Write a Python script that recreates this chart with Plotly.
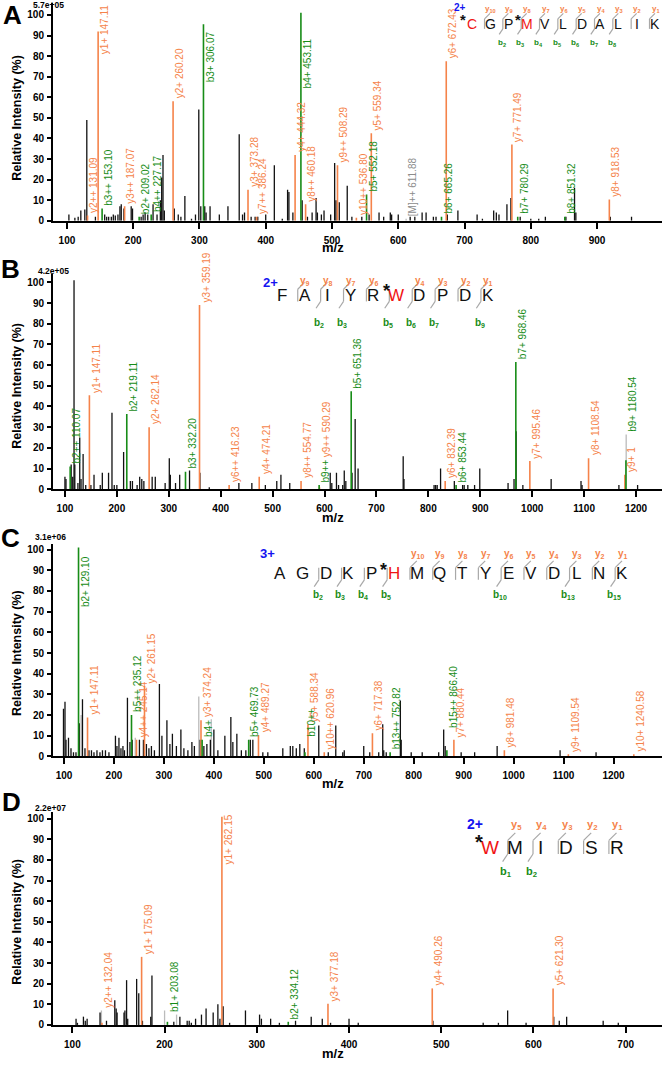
import plotly.graph_objects as go

W, H = 666, 1066
FONT = "Liberation Sans, Arial, sans-serif"
ORANGE = "#F5834A"
GREEN = "#178C17"
BLACK = "#111111"
LGREY = "#BBBBBB"
BLUE = "#1414F0"
RED = "#F01414"

# ---------------- panel A : *C G P *M V L D A L I K (2+) ----------------
a_peak_mz = [103, 112, 117, 121, 127, 130, 143, 157, 160, 163, 167, 170, 173, 177, 180, 182, 186,
             197, 199, 212, 215, 218, 222, 230, 236, 241, 243, 245, 247, 262, 268, 272, 278, 288,
             294, 299, 302, 308, 310, 316, 330, 343, 360, 365, 368, 378, 384, 388, 400, 413, 425,
             433, 435, 441, 455, 463, 470, 476, 478, 484, 488, 498, 504, 506, 511, 523, 530, 545,
             556, 571, 578, 588, 590, 600, 618, 625, 636, 642, 653, 657, 674, 690, 719, 727, 744,
             748, 752, 764, 770, 784, 800, 812, 822, 853, 866, 868, 920, 952]
a_peak_int = [3, 1.5, 2, 5, 5.5, 49, 2, 3, 2, 2, 2, 3, 2.5, 3, 7, 8, 6,
              7, 6, 2, 3, 4, 3, 8, 3, 10, 21, 32, 5, 6, 3, 2, 12, 1,
              3, 54, 7, 7, 4, 7, 3, 7, 42, 3, 4, 2, 2, 2, 3, 27, 1,
              15, 14, 4, 10, 2, 4, 11, 4, 3, 5, 3, 28, 10, 9, 17, 2, 2,
              3, 4, 2, 4, 3, 3, 2, 2, 4, 4, 2, 2, 3, 5, 3, 1, 5,
              4, 3, 8, 11, 2, 1, 1, 2, 2, 16, 4, 2, 2]
a_grey_mz = [611.88]
a_grey_int = [1]
a_grey_lab = ["[M]++ 611.88"]
a_y_mz = [131.09, 147.11, 187.07, 260.20, 373.28, 386.24, 444.32, 460.18, 508.29, 536.80,
          559.34, 672.43, 771.49, 918.53]
a_y_int = [2.5, 92, 7, 58, 15, 2, 32, 8, 27, 1.5, 42.5, 77.5, 37, 10.3]
a_y_lab = ["y2++ 131.09", "y1+ 147.11", "y3++ 187.07", "y2+ 260.20", "y3+ 373.28", "y7++ 386.24",
           "y4+ 444.32", "y8++ 460.18", "y9++ 508.29", "y10++ 536.80", "y5+ 559.34", "y6+ 672.43",
           "y7+ 771.49", "y8+ 918.53"]
a_b_mz = [153.10, 209.02, 227.17, 306.07, 453.11, 552.18, 665.26, 780.29, 851.32]
a_b_int = [6, 2, 3, 95.5, 101, 12.7, 2, 2, 2]
a_b_lab = ["b3++ 153.10", "b2+ 209.02", "b4++ 227.17", "b3+ 306.07", "b4+ 453.11", "b5+ 552.18",
           "b6+ 665.26", "b7+ 780.29", "b8+ 851.32"]
a_seq = "CGPMVLDALIK"
a_mods = [0, 3]
a_y_ions = [1, 2, 3, 4, 5, 6, 7, 8, 9, 10]
a_b_ions = [2, 3, 4, 5, 6, 7, 8]
a_charge = "2+"
a_scale = "5.7e+05"

# ---------------- panel B : F A I Y R *W D P D K (2+) ----------------
b_peak_mz = [100, 102, 112, 115, 117.5, 119, 125, 128.5, 131, 135, 140, 150, 156, 168, 172, 184,
             190.6, 195, 200, 213, 226, 230, 239, 244, 248, 252, 268, 274, 293, 301, 303, 313,
             321, 340, 360, 378, 435, 460, 486, 508, 516, 533, 611, 614, 623, 627, 635, 638,
             641, 653, 659, 664.6, 751.5, 753, 811, 814, 817, 823.5, 850, 866, 869, 876, 889,
             899, 953.5, 965, 969, 982, 1036.5, 1094, 1096, 1167, 1203]
b_peak_int = [6, 5, 12, 6, 101, 12, 3, 25, 5, 17, 2, 2, 7, 2, 8, 8,
              37, 2, 2, 18, 4, 4, 2, 6, 5, 4, 6, 6, 3, 15, 7, 3,
              7, 9, 8, 1, 3, 3, 2, 4, 7, 3, 8, 3, 8, 2, 2, 9,
              4, 8, 34, 10, 16, 5, 2, 2, 2, 10, 4, 2, 2, 2, 2,
              10, 3, 5, 28, 2, 5, 4, 2, 2, 2]
b_grey_mz = [1181]
b_grey_int = [26.5]
b_grey_lab = [""]
b_y_mz = [147.11, 262.14, 359.19, 416.23, 474.21, 554.77, 590.29, 832.39, 995.46, 1108.54, 1178.5]
b_y_int = [45.4, 30, 89, 2, 6, 4, 1, 4, 13.6, 15, 7]
b_y_lab = ["y1+ 147.11", "y2+ 262.14", "y3+ 359.19", "y6++ 416.23", "y4+ 474.21", "y8++ 554.77",
           "y9++ 590.29", "y6+ 832.39", "y7+ 995.46", "y8+ 1108.54", "y9+ 1"]
b_b_mz = [110.07, 219.11, 332.20, 589.6, 651.36, 853.44, 968.46, 1180.54]
b_b_int = [11, 36.4, 8.5, 2, 47.4, 2, 61.5, 14]
b_b_lab = ["b2++ 110.07", "b2+ 219.11", "b3+ 332.20", "b9++", "b5+ 651.36", "b6+ 853.44",
           "b7+ 968.46", "b9+ 1180.54"]
b_seq = "FAIYRWDPDK"
b_mods = [5]
b_y_ions = [9, 8, 7, 6, 4, 3, 2, 1]
b_b_ions = [2, 3, 5, 6, 7, 9]
b_charge = "2+"
b_scale = "4.2e+05"

# ---------------- panel C : A G D K P *H M Q T Y E V D L N K (3+) ----------------
c_peak_mz = [99, 102, 104, 109, 114, 119, 124, 130.5, 137, 142, 150, 155, 160, 166, 172, 177, 183,
             190, 203, 206, 210, 214, 218, 221, 227, 232, 236.5, 251, 259, 265, 270, 275, 281,
             291, 296, 306, 312, 317, 325, 334, 340, 348, 356, 361, 372.5, 380, 386, 393, 400,
             408, 422, 434, 438, 446, 455, 464, 473, 478, 498, 508, 538, 553, 558, 565, 572,
             581, 610, 629, 644, 658, 661, 700, 712, 730, 738, 740, 745, 773.3, 775, 795, 817,
             850, 860, 863, 895, 922, 967, 1093, 1165]
c_peak_int = [23, 26.4, 8, 9, 4, 2, 2, 16, 27.6, 4, 3, 3, 2, 3, 2, 3, 3,
              2, 10, 5, 9, 4, 5, 3, 28.4, 7, 8, 8, 8, 6, 4, 5, 3,
              35, 10, 17.5, 6, 11, 5, 13, 4, 3, 7, 5, 8, 5, 6, 8, 13,
              3, 10, 19, 7, 11, 3, 3, 8, 8, 2, 2, 4, 5, 5, 4, 6,
              4, 15, 2, 15, 2, 3, 5, 2, 2, 15.5, 3, 2, 27, 8, 2, 2,
              2, 13, 5, 2, 2, 5, 3, 2]
c_grey_mz = [134.3, 242.7, 369.8, 394.8]
c_grey_int = [20, 9, 29, 18]
c_grey_lab = ["", "", "", ""]
c_y_mz = [147.11, 245.14, 261.15, 374.24, 489.27, 588.34, 620.96, 717.38, 880.44, 981.48,
          1109.54, 1240.58]
c_y_int = [18.8, 8, 34, 17.5, 10.4, 15.5, 2, 11.2, 8, 3, 1, 1]
c_y_lab = ["y1+ 147.11", "y4++ 245.14", "y2+ 261.15", "y3+ 374.24", "y4+ 489.27", "y5+ 588.34",
           "y10++ 620.96", "y6+ 717.38", "y7+ 880.44", "y8+ 981.48", "y9+ 1109.54", "y10+ 1240.58"]
c_b_mz = [129.10, 235.12, 376.5, 469.73, 582.3, 752.82, 866.40]
c_b_int = [101, 20, 8, 8, 2, 2, 3]
c_b_lab = ["b2+ 129.10", "b5++ 235.12", "b4+", "b5+ 469.73", "b10++", "b13++ 752.82",
           "b15++ 866.40"]
c_seq = "AGDKPHMQTYEVDLNK"
c_mods = [5]
c_y_ions = [10, 9, 8, 7, 6, 5, 4, 3, 2, 1]
c_b_ions = [2, 3, 4, 5, 10, 13, 15]
c_charge = "3+"
c_scale = "3.1e+06"

# ---------------- panel D : *W M I D S R (2+) ----------------
d_peak_mz = [104, 105.5, 112, 114, 116, 130, 137, 146, 147.5, 148.5, 156, 157, 158.8, 160, 169.7,
             172, 176, 185, 186.3, 210, 216.6, 224.5, 226.7, 229, 233.6, 240, 245, 252.7, 257.8,
             260, 263.5, 270.5, 287.7, 303, 305, 315, 324.5, 342, 359, 371, 380, 400, 410, 491,
             545.5, 562, 572, 592, 622, 628, 636, 675.6, 692]
d_peak_int = [3, 1, 4, 2, 3, 6, 2, 12, 8, 6, 6, 7, 21.7, 3, 22.3,
              15.3, 2, 4, 24, 1.5, 4, 2, 2, 1, 3, 5, 8, 6, 10,
              3, 9, 1, 7, 5, 3, 3, 1, 2, 4, 3, 1, 3, 1, 2,
              1, 1, 7, 1, 4, 2, 4, 2, 1]
d_grey_mz = [131.5, 200, 213]
d_grey_int = [7, 7, 5]
d_grey_lab = ["", "", ""]
d_y_mz = [132.04, 175.09, 262.15, 377.18, 490.26, 621.30]
d_y_int = [1, 33, 101, 10.3, 17.7, 17.7]
d_y_lab = ["y2++ 132.04", "y1+ 175.09", "y1+ 262.15", "y3+ 377.18", "y4+ 490.26", "y5+ 621.30"]
d_b_mz = [203.08, 334.12]
d_b_int = [1.5, 1.5]
d_b_lab = ["b1+ 203.08", "b2+ 334.12"]
d_seq = "WMIDSR"
d_mods = [0]
d_y_ions = [5, 4, 3, 2, 1]
d_b_ions = [1, 2]
d_charge = "2+"
d_scale = "2.2e+07"

# where a label starts (in % units) when it does not simply sit on top of its own stick
LABEL_BASE = {
    ("A", "y1+ 147.11"): 80.5, ("A", "b3+ 306.07"): 67, ("A", "b4+ 453.11"): 64,
    ("B", "b9+ 1180.54"): 27.5, ("B", "y9++ 590.29"): 15,
    ("C", "b15++ 866.40"): 13.5, ("C", "b10++"): 9, ("C", "b4+"): 9, ("C", "b2+ 129.10"): 71.5,
    ("D", "y2++ 132.04"): 8, ("D", "b1+ 203.08"): 6, ("D", "y1+ 262.15"): 77.5,
}

panels = [
    dict(name="A", peaks=(a_peak_mz, a_peak_int), grey=(a_grey_mz, a_grey_int, a_grey_lab),
         y=(a_y_mz, a_y_int, a_y_lab), b=(a_b_mz, a_b_int, a_b_lab),
         seq=a_seq, mods=a_mods, yi=a_y_ions, bi=a_b_ions, charge=a_charge, scale=a_scale,
         top=3, bottom=222, xr=[79, 998], yr=[0, 105.8], letter=(12, 15), scale_xy=(48, 5),
         mz_y=249, s=dict(x0=471.7, step=18.33, yc=24, ylab=9, blab=43, size=14, lab=8,
                          cxy=(460, 8), csize=10)),
    dict(name="B", peaks=(b_peak_mz, b_peak_int), grey=(b_grey_mz, b_grey_int, b_grey_lab),
         y=(b_y_mz, b_y_int, b_y_lab), b=(b_b_mz, b_b_int, b_b_lab),
         seq=b_seq, mods=b_mods, yi=b_y_ions, bi=b_b_ions, charge=b_charge, scale=b_scale,
         top=276, bottom=492, xr=[77, 1250], yr=[0, 103.8], letter=(10, 271), scale_xy=(53, 273),
         mz_y=520, s=dict(x0=281.7, step=22.9, yc=297, ylab=283, blab=325, size=17, lab=10,
                          cxy=(270, 284), csize=13)),
    dict(name="C", peaks=(c_peak_mz, c_peak_int), grey=(c_grey_mz, c_grey_int, c_grey_lab),
         y=(c_y_mz, c_y_int, c_y_lab), b=(c_b_mz, c_b_int, c_b_lab),
         seq=c_seq, mods=c_mods, yi=c_y_ions, bi=c_b_ions, charge=c_charge, scale=c_scale,
         top=546.7, bottom=760.7, xr=[78, 1297], yr=[0, 102.9], letter=(10, 541), scale_xy=(50, 540),
         mz_y=788, s=dict(x0=280, step=22.8, yc=577, ylab=557, blab=598, size=17, lab=10,
                          cxy=(267, 557), csize=13)),
    dict(name="D", peaks=(d_peak_mz, d_peak_int), grey=(d_grey_mz, d_grey_int, d_grey_lab),
         y=(d_y_mz, d_y_int, d_y_lab), b=(d_b_mz, d_b_int, d_b_lab),
         seq=d_seq, mods=d_mods, yi=d_y_ions, bi=d_b_ions, charge=d_charge, scale=d_scale,
         top=816.7, bottom=1030.7, xr=[79, 739.4], yr=[0, 103.2], letter=(11, 807), scale_xy=(50, 813),
         mz_y=1059, s=dict(x0=490, step=25.3, yc=852, ylab=830, blab=877, size=19, lab=11,
                           cxy=(475, 829), csize=14)),
]


def px(x):
    return x / W


def py(y):
    return 1 - y / H


def sticks(mz, inten):
    xs, ys = [], []
    for m, v in zip(mz, inten):
        xs += [m, m, None]
        ys += [0, v, None]
    return xs, ys


def add_sequence(fig, p):
    s = p["s"]
    seq, n = p["seq"], len(p["seq"])
    step, yc, size = s["step"], s["yc"], s["size"]
    xs = [s["x0"] + i * step for i in range(n)]
    for i, aa in enumerate(seq):
        mod = i in p["mods"]
        fig.add_annotation(x=px(xs[i]), y=py(yc), xref="paper", yref="paper", text=aa,
                           showarrow=False, xanchor="center", yanchor="middle",
                           font=dict(family=FONT, size=size, color=RED if mod else BLACK))
        if mod:
            fig.add_annotation(x=px(xs[i] - 0.6 * size), y=py(yc - 0.25 * size), xref="paper",
                               yref="paper", text="*", showarrow=False, xanchor="center",
                               yanchor="middle",
                               font=dict(family=FONT, size=size * 1.05, color=BLACK, weight="bold"))
    half = 0.36 * size
    for c in range(1, n):
        has_y = (n - c) in p["yi"]
        has_b = c in p["bi"]
        if not (has_y or has_b):
            continue
        xc = xs[c] - 0.3 * step
        line = dict(color="#A8A8A8", width=1.2)
        fig.add_shape(type="line", xref="paper", yref="paper", x0=px(xc), x1=px(xc),
                      y0=py(yc - half), y1=py(yc + half), line=line)
        if has_y:
            d = 0.3 * step
            fig.add_shape(type="line", xref="paper", yref="paper", x0=px(xc), x1=px(xc + d),
                          y0=py(yc - half), y1=py(yc - half - d), line=line)
            fig.add_annotation(x=px(xc + 0.33 * step), y=py(s["ylab"]), xref="paper", yref="paper",
                               text=f"y<sub>{n - c}</sub>", showarrow=False, xanchor="center",
                               yanchor="middle",
                               font=dict(family=FONT, size=s["lab"], color=ORANGE, weight="bold"))
        if has_b:
            fig.add_shape(type="line", xref="paper", yref="paper", x0=px(xc), x1=px(xc - 0.2 * step),
                          y0=py(yc + half), y1=py(yc + half + 0.3 * step), line=line)
            fig.add_annotation(x=px(xc - 0.05 * step), y=py(s["blab"]), xref="paper", yref="paper",
                               text=f"b<sub>{c}</sub>", showarrow=False, xanchor="center",
                               yanchor="middle",
                               font=dict(family=FONT, size=s["lab"], color=GREEN, weight="bold"))
    cx, cy = s["cxy"]
    fig.add_annotation(x=px(cx), y=py(cy), xref="paper", yref="paper", text=p["charge"],
                       showarrow=False, xanchor="center", yanchor="middle",
                       font=dict(family=FONT, size=s["csize"], color=BLUE, weight="bold"))


fig = go.Figure()
tickfont = dict(family=FONT, size=10, color="black", weight="bold")

for k, p in enumerate(panels, start=1):
    sfx = "" if k == 1 else str(k)
    xa, ya = "x" + sfx, "y" + sfx
    series = [
        (p["grey"][0], p["grey"][1], LGREY, 1.3),
        (p["peaks"][0], p["peaks"][1], BLACK, 1.3),
        (p["y"][0], p["y"][1], ORANGE, 1.6),
        (p["b"][0], p["b"][1], GREEN, 1.6),
    ]
    for mz, inten, color, w in series:
        xs, ys = sticks(mz, inten)
        fig.add_trace(go.Scatter(x=xs, y=ys, mode="lines", line=dict(color=color, width=w),
                                 xaxis=xa, yaxis=ya, hoverinfo="skip", showlegend=False))

    for (mz, inten, labs), color in [(p["grey"], "#8C8C8C"), (p["y"], ORANGE), (p["b"], GREEN)]:
        for m, v, lab in zip(mz, inten, labs):
            if not lab:
                continue
            key = (p["name"], lab)
            if key in LABEL_BASE:
                yv, yanc = LABEL_BASE[key], "bottom"
            elif v >= 90:
                yv, yanc = 101, "top"
            else:
                yv, yanc = v + 0.8, "bottom"
            fig.add_annotation(x=m, y=yv, xref=xa, yref=ya, text=lab, textangle=-90,
                               showarrow=False, xanchor="left", yanchor=yanc, borderpad=0,
                               font=dict(family=FONT, size=10, color=color))

    fig.layout["xaxis" + sfx] = dict(
        domain=[px(53), px(662)], range=p["xr"], anchor=ya, tick0=0, dtick=100,
        ticks="outside", ticklen=6, tickwidth=1.5, tickcolor="black", showline=True,
        linewidth=2, linecolor="black", showgrid=False, zeroline=False, tickfont=tickfont,
        ticklabelstandoff=3)
    fig.layout["yaxis" + sfx] = dict(
        domain=[py(p["bottom"]), py(p["top"])], range=p["yr"], anchor=xa, tick0=0, dtick=10,
        ticks="outside", ticklen=4, tickwidth=1.5, tickcolor="black", showline=True,
        linewidth=2, linecolor="black", showgrid=False, zeroline=False, tickfont=tickfont,
        ticklabelstandoff=1)

    ppu = (p["bottom"] - p["top"]) / p["yr"][1]
    fig.add_annotation(x=px(17), y=py(p["bottom"] - 50 * ppu), xref="paper", yref="paper",
                       text="Relative Intensity (%)", textangle=-90, showarrow=False,
                       xanchor="center", yanchor="middle",
                       font=dict(family=FONT, size=12.5, color="black", weight="bold"))
    fig.add_annotation(x=px(333), y=py(p["mz_y"]), xref="paper", yref="paper", text="m/z",
                       showarrow=False, xanchor="center", yanchor="middle",
                       font=dict(family=FONT, size=13, color="black", weight="bold"))
    lx, ly = p["letter"]
    fig.add_annotation(x=px(lx), y=py(ly), xref="paper", yref="paper", text=p["name"],
                       showarrow=False, xanchor="center", yanchor="middle",
                       font=dict(family=FONT, size=26, color="black", weight="bold"))
    sx, sy = p["scale_xy"]
    fig.add_annotation(x=px(sx), y=py(sy), xref="paper", yref="paper", text=p["scale"],
                       showarrow=False, xanchor="center", yanchor="middle",
                       font=dict(family=FONT, size=8.5, color="black", weight="bold"))
    add_sequence(fig, p)

fig.update_layout(width=W, height=H, margin=dict(l=0, r=0, t=0, b=0),
                  paper_bgcolor="white", plot_bgcolor="white", showlegend=False)

# drop the page's default 8px body margin and any overflow so the figure fills the window
page_fix = ("document.body.style.margin = '0';"
            "document.documentElement.style.overflow = 'hidden';"
            "document.body.style.overflow = 'hidden';"
            "document.getElementById('{plot_id}').style.overflow = 'hidden';")
fig.write_html("out.html", config={"displayModeBar": False}, post_script=page_fix)
